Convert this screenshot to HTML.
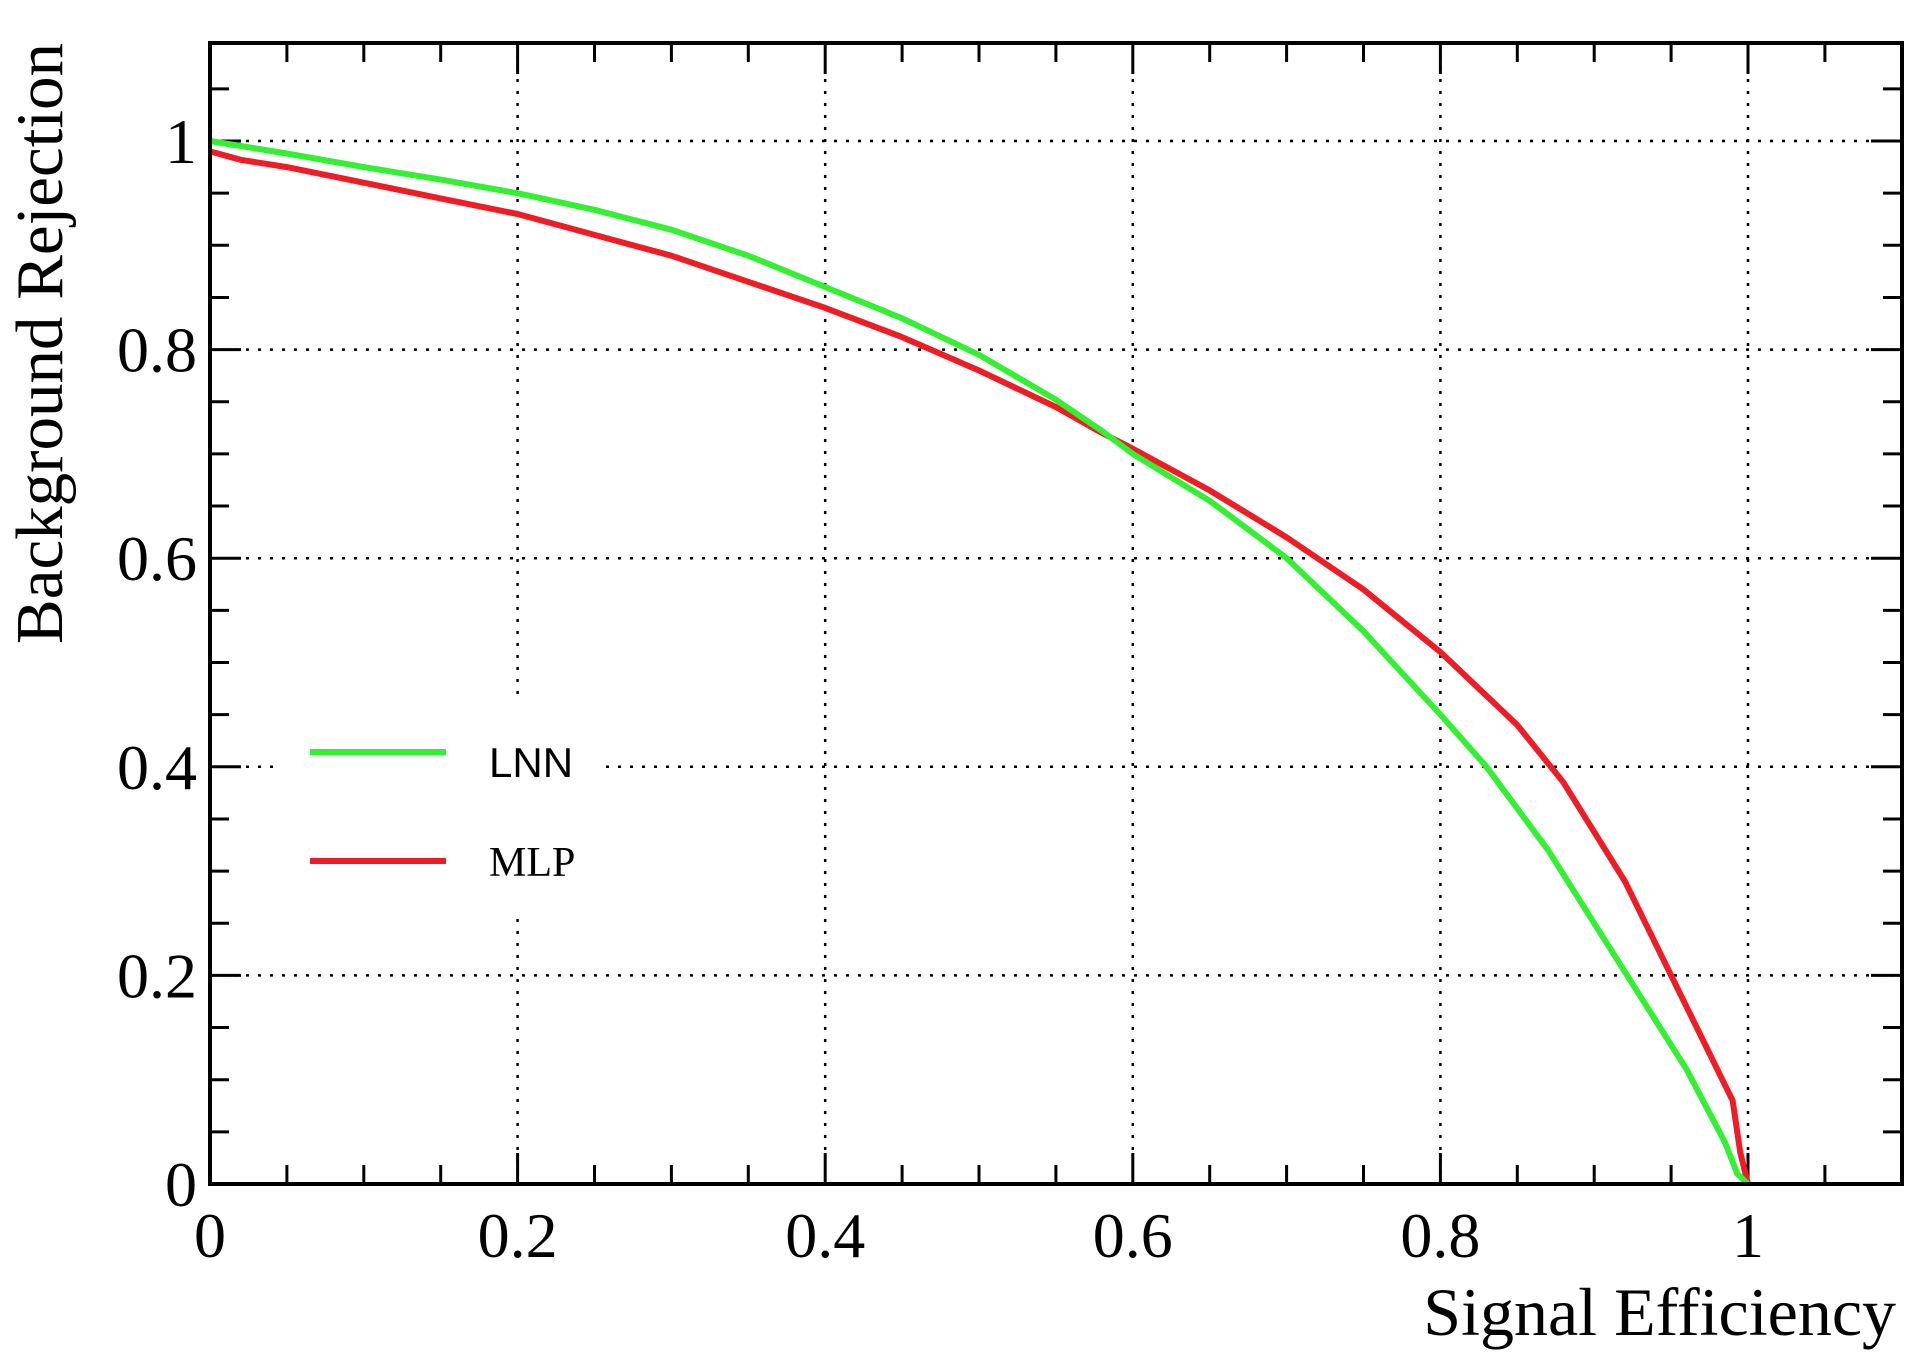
<!DOCTYPE html>
<html><head><meta charset="utf-8"><style>
html,body{margin:0;padding:0;background:#fff;}
svg{display:block;}
text{font-family:"Liberation Serif",serif;fill:#000;}
</style></head><body>
<svg id="chart" width="1928" height="1366" viewBox="0 0 1928 1366"></svg>
<script>
const xTicks=[0,0.2,0.4,0.6,0.8,1];
const xTickLabels=["0","0.2","0.4","0.6","0.8","1"];
const yTicks=[0,0.2,0.4,0.6,0.8,1];
const yTickLabels=["0","0.2","0.4","0.6","0.8","1"];
const lnnX=[0,0.05,0.1,0.15,0.2,0.25,0.3,0.35,0.4,0.45,0.5,0.55,0.58,0.6,0.65,0.7,0.75,0.8,0.83,0.87,0.9,0.93,0.96,0.985,0.993,1];
const lnnY=[1,0.988,0.975,0.963,0.95,0.934,0.915,0.89,0.86,0.83,0.795,0.752,0.722,0.70,0.655,0.60,0.53,0.45,0.40,0.32,0.25,0.18,0.11,0.04,0.01,0];
const mlpX=[0,0.02,0.05,0.1,0.15,0.2,0.25,0.3,0.35,0.4,0.45,0.5,0.55,0.58,0.6,0.65,0.7,0.75,0.8,0.85,0.88,0.92,0.95,0.97,0.99,0.995,1];
const mlpY=[0.99,0.982,0.975,0.96,0.945,0.93,0.91,0.89,0.865,0.84,0.812,0.78,0.745,0.72,0.705,0.665,0.62,0.57,0.51,0.44,0.385,0.29,0.2,0.14,0.08,0.03,0];

const NS="http://www.w3.org/2000/svg";
const svg=document.getElementById('chart');
const X0=210,XU=1538,Y0=1184,YU=1043;
const L=210,R=1902,T=43,B=1184;
function sx(v){return X0+v*XU;}
function sy(v){return Y0-v*YU;}
function mk(tag,attrs,parent){const e=document.createElementNS(NS,tag);for(const k in attrs)e.setAttribute(k,attrs[k]);(parent||svg).appendChild(e);return e;}

const grid=mk('g',{});


xTicks.forEach(v=>{if(v>0&&v<1.05){const l=mk('line',{x1:sx(v),x2:sx(v),y1:T,y2:B,stroke:'#000','stroke-width':2.5,'stroke-dasharray':'3 9'},grid);

}});
yTicks.forEach(v=>{if(v>0){const l=mk('line',{x1:L,x2:R,y1:sy(v),y2:sy(v),stroke:'#000','stroke-width':2.5,'stroke-dasharray':'3 9'},grid);

}});

const ticks=mk('g',{stroke:'#000','stroke-width':3});


for(let i=0;i<=22;i++){const v=i*0.05;const major=(i%4===0);const len=major?31:19;const x=sx(v);
 if(x<=R){mk('line',{x1:x,x2:x,y1:B,y2:B-len},ticks);mk('line',{x1:x,x2:x,y1:T,y2:T+len},ticks);}
 const y=sy(v); if(y>=T){mk('line',{x1:L,x2:L+len,y1:y,y2:y},ticks);mk('line',{x1:R,x2:R-len,y1:y,y2:y},ticks);}}

const leg=mk('g',{});


mk('rect',{x:279,y:697,width:322,height:217,fill:'#fff'},leg);

function series(xs,ys,color,name){const d=xs.map((x,i)=>(i?'L':'M')+sx(x).toFixed(1)+' '+sy(ys[i]).toFixed(1)).join(' ');
 const p=mk('path',{d:d,fill:'none',stroke:color,'stroke-width':6,'stroke-linejoin':'round'});
 
 }
series(mlpX,mlpY,'#ee1c25','mlp-curve');
series(lnnX,lnnY,'#33f033','lnn-curve');

const fr=mk('rect',{x:L,y:T,width:R-L,height:B-T,fill:'none',stroke:'#000','stroke-width':4});



const e1=mk('g',{},leg);


mk('line',{x1:310,x2:446,y1:752,y2:752,stroke:'#33f033','stroke-width':6},e1);
const t1=mk('text',{x:489,y:777,'font-size':42,style:'font-family:"Liberation Sans",sans-serif'},e1);t1.textContent='LNN';
const e2=mk('g',{},leg);


mk('line',{x1:310,x2:446,y1:861,y2:861,stroke:'#ee1c25','stroke-width':6},e2);
const t2=mk('text',{x:489,y:876,'font-size':42},e2);t2.textContent='MLP';

xTicks.forEach((v,i)=>{const t=mk('text',{x:sx(v),y:1257,'font-size':64,'text-anchor':'middle'});t.textContent=xTickLabels[i];
 
 });
yTicks.forEach((v,i)=>{const t=mk('text',{x:197,y:sy(v)+22,'font-size':64,'text-anchor':'end'});t.textContent=yTickLabels[i];
 
 });

const xt=mk('text',{x:1896,y:1335,'font-size':68,'text-anchor':'end'});xt.textContent='Signal Efficiency';


const yt=mk('text',{x:0,y:0,'font-size':67,'text-anchor':'end',transform:'translate(62,43) rotate(-90)'});yt.textContent='Background Rejection';


</script>
</body></html>
